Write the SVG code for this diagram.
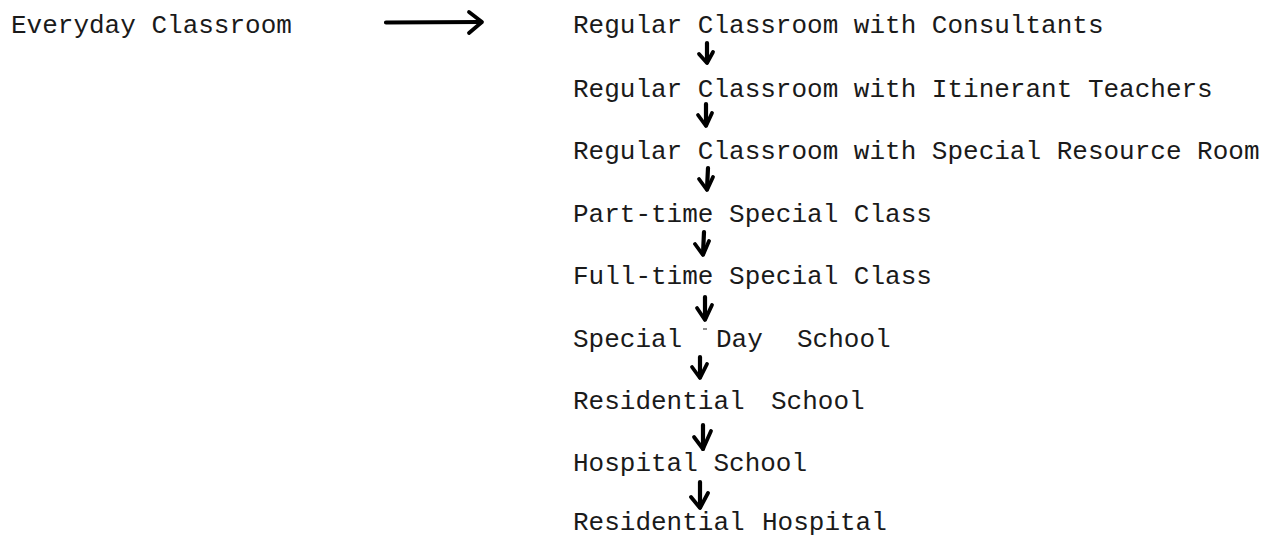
<svg xmlns="http://www.w3.org/2000/svg" width="1267" height="537" viewBox="0 0 1267 537">
<style>
  .t { font-family: "Liberation Mono", "Courier New", monospace; font-size: 26px; fill: #1a1a1a; white-space: pre; }
  .shaft { stroke: #000; stroke-width: 4.2; stroke-linecap: round; fill: none; }
  .head { stroke: #000; stroke-width: 3.8; stroke-linecap: round; stroke-linejoin: round; fill: none; }
  .speck { stroke: #444; stroke-width: 1.2; fill: none; }
</style>
<rect width="1267" height="537" fill="#fff"/>
<g id="node-everyday"><text class="t" x="11" y="33">Everyday Classroom</text></g>
<g id="node-consultants"><text class="t" x="573" y="33">Regular Classroom with Consultants</text></g>
<g id="node-itinerant"><text class="t" x="573" y="97">Regular Classroom with Itinerant Teachers</text></g>
<g id="node-resource"><text class="t" x="573" y="159">Regular Classroom with Special Resource Room</text></g>
<g id="node-parttime"><text class="t" x="573" y="222">Part-time Special Class</text></g>
<g id="node-fulltime"><text class="t" x="573" y="284">Full-time Special Class</text></g>
<g id="node-dayschool"><text class="t" x="573" y="347">Special<tspan x="716">Day</tspan><tspan x="797">School</tspan></text></g>
<g id="node-residential"><text class="t" x="573" y="409">Residential<tspan x="771">School</tspan></text></g>
<g id="node-hospital"><text class="t" x="573" y="471">Hospital School</text></g>
<g id="node-reshospital"><text class="t" x="573" y="530">Residential<tspan x="762">Hospital</tspan></text></g>
<g id="connectors">
  <path class="shaft" d="M386 22.5 L480 22"/>
  <path class="head" d="M469 12 L482 22 L469 33"/>
  <path class="shaft" d="M707 43 L707 62"/>
  <path class="head" d="M699 54 L707 63 L713 52"/>
  <path class="shaft" d="M706 104 L706 125"/>
  <path class="head" d="M698 115 L706 126 L712 113"/>
  <path class="shaft" d="M708 168 L707 189"/>
  <path class="head" d="M699 179 L707 190 L713 177"/>
  <path class="shaft" d="M704 232 L703 254"/>
  <path class="head" d="M695 244 L703 255 L709 241"/>
  <path class="shaft" d="M705 297 L705 319"/>
  <path class="head" d="M697 308 L705 320 L712 305"/>
  <path class="shaft" d="M700 357 L700 377"/>
  <path class="head" d="M692 367 L700 378 L707 364"/>
  <path class="shaft" d="M703 425 L703 449"/>
  <path class="head" d="M694 437 L703 449 L711 431"/>
  <path class="shaft" d="M700 482 L700 507"/>
  <path class="head" d="M691 497 L700 508 L708 493"/>
  <path class="speck" d="M703 329 L707 329"/>
</g>
</svg>
